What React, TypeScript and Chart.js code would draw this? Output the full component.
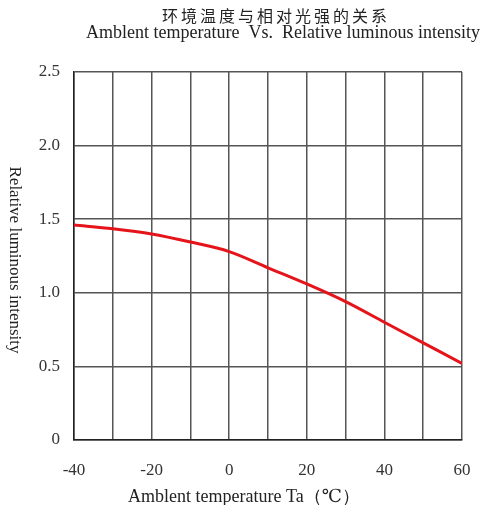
import React, { useEffect, useRef } from "react";
import { Chart, registerables } from "chart.js";

Chart.register(...registerables);

const tempC = [-40, -30, -20, -10, 0, 10, 20, 30, 40, 50, 60];
const relIntensity = [1.46, 1.435, 1.4, 1.345, 1.28, 1.17, 1.06, 0.94, 0.8, 0.66, 0.52];
const xTickLabels = ["-40", "-20", "0", "20", "40", "60"];
const yTickLabels = ["0", "0.5", "1.0", "1.5", "2.0", "2.5"];

const titleCn = "环境温度与相对光强的关系";
const titleEn = "Amblent temperature  Vs.  Relative luminous intensity";
const xTitle = "Amblent temperature Ta（℃）";
const yTitle = "Relative luminous intensity";

const SERIF = "'Liberation Serif', 'DejaVu Serif', serif";
const CJK = "'Noto Sans CJK SC', sans-serif";

const W = 484;
const H = 505;

const textPlugin = {
  id: "texts",
  afterDraw(chart: any) {
    const ctx = chart.ctx as CanvasRenderingContext2D;
    ctx.save();
    ctx.fillStyle = "#222";
    // Chinese title, spaced characters
    ctx.font = `16px ${CJK}`;
    ctx.textBaseline = "middle";
    ctx.textAlign = "left";
    const step = 19;
    const startX = 162;
    for (let i = 0; i < titleCn.length; i++) {
      ctx.fillText(titleCn[i], startX + i * step, 16);
    }
    // English title
    ctx.textBaseline = "alphabetic";
    ctx.font = `18px ${SERIF}`;
    ctx.textAlign = "center";
    ctx.fillText(titleEn, 283, 38);
    // x title
    ctx.fillText(xTitle, 244, 502);
    // y title
    ctx.font = `17px ${SERIF}`;
    ctx.translate(10, 260);
    ctx.rotate(Math.PI / 2);
    ctx.fillText(yTitle, 0, 0);
    ctx.restore();
  },
};

export default function App() {
  const ref = useRef<HTMLCanvasElement | null>(null);
  useEffect(() => {
    document.body.style.margin = "0";
    document.body.style.overflow = "hidden";
    if (!ref.current) return;
    const chart = new Chart(ref.current, {
      type: "line",
      data: {
        datasets: [
          {
            data: tempC.map((t, i) => ({ x: t, y: relIntensity[i] })),
            borderColor: "#e5141a",
            borderWidth: 3,
            pointRadius: 0,
            cubicInterpolationMode: "monotone",
            fill: false,
          },
        ],
      },
      options: {
        animation: false,
        responsive: false,
        devicePixelRatio: 1,
        layout: { padding: { top: 72, right: 22, left: 0, bottom: 0 } },
        plugins: { legend: { display: false }, tooltip: { enabled: false } },
        scales: {
          x: {
            type: "linear",
            min: -40,
            max: 60,
            afterFit: (s: any) => {
              s.height = 65;
              s.paddingLeft = 0;
              s.paddingRight = 0;
            },
            ticks: {
              stepSize: 10,
              padding: 20,
              color: "#333",
              font: { family: SERIF, size: 17 },
              maxRotation: 0,
              autoSkip: false,
              callback: (v: any) => {
                const s = String(v);
                return xTickLabels.includes(s) ? s : "";
              },
            },
            grid: { color: "#555", lineWidth: 1.5, drawTicks: false },
            border: { color: "#222", width: 1.5 },
          },
          y: {
            min: 0,
            max: 2.5,
            afterFit: (s: any) => {
              s.width = 74;
              s.paddingTop = 0;
              s.paddingBottom = 0;
            },
            ticks: {
              stepSize: 0.5,
              padding: 14,
              color: "#333",
              font: { family: SERIF, size: 17 },
              callback: (v: any) => {
                const idx = Math.round(Number(v) / 0.5);
                return yTickLabels[idx] ?? "";
              },
            },
            grid: { color: "#555", lineWidth: 1.5, drawTicks: false },
            border: { color: "#222", width: 1.5 },
          },
        },
      },
      plugins: [textPlugin],
    } as any);
    return () => chart.destroy();
  }, []);
  return (
    <div style={{ width: W, height: H, overflow: "hidden" }}>
      <canvas ref={ref} width={W} height={H} style={{ display: "block" }} />
    </div>
  );
}
